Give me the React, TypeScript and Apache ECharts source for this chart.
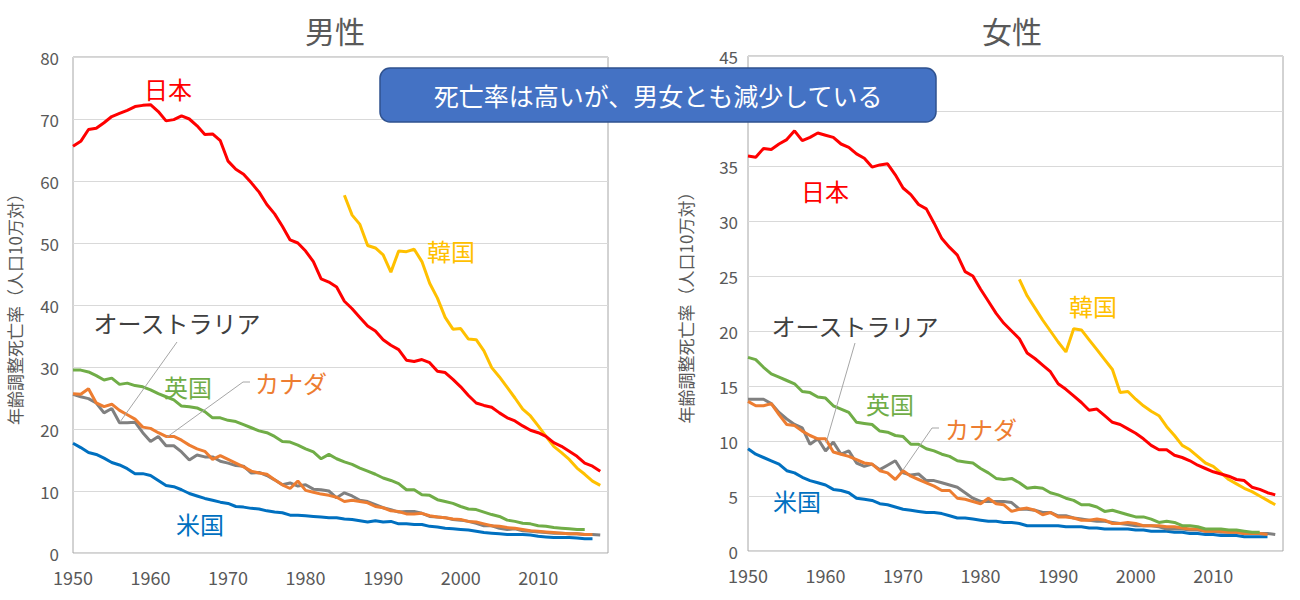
import React, { useEffect, useRef } from "react";
import * as echarts from "echarts";

const FONT = '"Noto Sans CJK JP", "Noto Sans", sans-serif';

// ---- Male (年齢調整死亡率, 人口10万対) ----
const JP_M_START = 1950;
const JP_M = [
  65.6, 66.4, 68.3, 68.5, 69.4, 70.4, 70.9, 71.4, 72.0, 72.2,
  72.3, 71.2, 69.7, 69.9, 70.5, 70.0, 68.9, 67.5, 67.6, 66.5,
  63.2, 61.9, 61.1, 59.7, 58.2, 56.2, 54.7, 52.7, 50.5, 50.0,
  48.7, 47.0, 44.2, 43.7, 42.9, 40.6, 39.4, 38.0, 36.6, 35.8,
  34.4, 33.5, 32.8, 31.1, 30.9, 31.2, 30.7, 29.3, 29.1, 28.0,
  26.8, 25.4, 24.2, 23.8, 23.5, 22.6, 21.8, 21.3, 20.5, 19.8,
  19.4, 18.8, 17.8, 17.2, 16.4, 15.6, 14.5, 14.0, 13.2,
];
const KR_M_START = 1985;
const KR_M = [
  57.7, 54.5, 53.0, 49.6, 49.2, 48.1, 45.3, 48.7, 48.6, 49.0,
  47.0, 43.5, 41.1, 38.0, 36.1, 36.2, 34.5, 34.4, 32.6, 29.9,
  28.4, 26.7, 25.0, 23.2, 22.1, 20.5, 18.8, 17.2, 16.2, 15.1,
  13.7, 12.7, 11.6, 10.9,
];
const UK_M_START = 1950;
const UK_M = [
  29.5, 29.5, 29.2, 28.6, 27.9, 28.2, 27.2, 27.4, 27.0, 26.8,
  26.3, 25.7, 25.2, 24.7, 23.7, 23.6, 23.4, 22.8, 21.8, 21.8,
  21.4, 21.2, 20.7, 20.2, 19.7, 19.4, 18.8, 18.0, 17.9, 17.4,
  16.8, 16.3, 15.2, 15.9, 15.2, 14.7, 14.3, 13.7, 13.2, 12.7,
  12.1, 11.7, 11.2, 10.2, 10.2, 9.4, 9.3, 8.6, 8.3, 8.0,
  7.5, 7.1, 7.0, 6.6, 6.2, 5.9, 5.3, 5.1, 4.8, 4.7,
  4.4, 4.3, 4.1, 4.0, 3.9, 3.8, 3.8,
];
const CA_M_START = 1950;
const CA_M = [
  25.7, 25.6, 26.5, 24.2, 23.6, 24.0, 23.0, 22.3, 21.6, 20.3,
  20.1, 19.4, 18.8, 18.8, 18.2, 17.4, 16.8, 16.4, 15.1, 15.7,
  15.1, 14.5, 13.9, 13.2, 12.9, 12.7, 11.8, 11.0, 10.4, 11.6,
  10.1, 9.8, 9.5, 9.3, 9.0, 8.3, 8.5, 8.3, 8.1, 7.5,
  7.3, 6.8, 6.7, 6.3, 6.3, 6.4, 6.0, 5.8, 5.7, 5.5,
  5.4, 5.1, 5.0, 4.7, 4.4, 4.3, 4.1, 4.0, 3.8, 3.6,
  3.5, 3.4, 3.3, 3.2, 3.1, 3.1, 3.0, 3.0,
];
const AU_M_START = 1950;
const AU_M = [
  25.6, 25.2, 24.9, 24.2, 22.6, 23.3, 21.0, 21.0, 21.1, 19.4,
  18.0, 18.8, 17.3, 17.3, 16.3, 15.0, 15.8, 15.5, 15.5, 14.8,
  14.5, 14.1, 14.0, 12.9, 13.0, 12.5, 11.8, 11.0, 11.3, 10.8,
  11.0, 10.3, 10.2, 10.0, 8.9, 9.7, 9.2, 8.5, 8.3, 7.8,
  7.3, 7.0, 6.6, 6.7, 6.7, 6.4, 5.9, 5.8, 5.7, 5.4,
  5.3, 5.1, 4.8, 4.4, 4.4, 4.0, 3.8, 3.9, 3.6, 3.5,
  3.4, 3.3, 3.2, 3.2, 3.1, 3.1, 3.0, 3.0, 2.9,
];
const US_M_START = 1950;
const US_M = [
  17.7, 17.0, 16.2, 15.9, 15.3, 14.6, 14.2, 13.6, 12.8, 12.8,
  12.5, 11.7, 10.9, 10.7, 10.2, 9.6, 9.2, 8.8, 8.5, 8.2,
  8.0, 7.5, 7.4, 7.2, 7.1, 6.8, 6.6, 6.5, 6.1, 6.1,
  6.0, 5.9, 5.8, 5.7, 5.7, 5.5, 5.4, 5.2, 5.0, 5.2,
  5.0, 5.1, 4.7, 4.7, 4.6, 4.6, 4.3, 4.2, 4.0, 3.9,
  3.8, 3.7, 3.5, 3.3, 3.2, 3.1, 3.0, 3.0, 3.0, 2.9,
  2.7, 2.6, 2.5, 2.5, 2.5, 2.4, 2.3, 2.3,
];

// ---- Female ----
const JP_F_START = 1950;
const JP_F = [
  35.9, 35.8, 36.6, 36.5, 37.0, 37.4, 38.2, 37.3, 37.6, 38.0,
  37.8, 37.6, 37.0, 36.7, 36.1, 35.7, 34.9, 35.1, 35.2, 34.2,
  33.0, 32.4, 31.5, 31.1, 29.8, 28.4, 27.6, 26.9, 25.4, 25.0,
  23.8, 22.7, 21.6, 20.7, 20.0, 19.3, 18.0, 17.5, 16.9, 16.3,
  15.2, 14.7, 14.1, 13.5, 12.8, 12.9, 12.3, 11.7, 11.5, 11.1,
  10.7, 10.2, 9.6, 9.2, 9.2, 8.7, 8.5, 8.2, 7.8, 7.5,
  7.2, 7.0, 6.8, 6.5, 6.4, 5.8, 5.6, 5.3, 5.1,
];
const KR_F_START = 1985;
const KR_F = [
  24.7, 23.2, 22.1, 21.0, 20.0, 19.0, 18.1, 20.2, 20.1, 19.2,
  18.3, 17.4, 16.5, 14.4, 14.5, 13.8, 13.2, 12.7, 12.3, 11.3,
  10.5, 9.6, 9.2, 8.6, 8.0, 7.7, 7.1, 6.5, 6.1, 5.7,
  5.4, 5.0, 4.6, 4.2,
];
const UK_F_START = 1950;
const UK_F = [
  17.6, 17.4, 16.7, 16.1, 15.8, 15.5, 15.2, 14.5, 14.4, 14.0,
  13.9, 13.2, 12.9, 12.6, 11.7, 11.6, 11.5, 10.9, 10.8, 10.5,
  10.4, 9.7, 9.7, 9.3, 9.1, 8.8, 8.6, 8.2, 8.1, 8.0,
  7.5, 7.1, 6.6, 6.5, 6.6, 6.2, 5.7, 5.8, 5.7, 5.3,
  5.1, 4.8, 4.6, 4.2, 4.2, 4.0, 3.6, 3.7, 3.5, 3.3,
  3.1, 3.1, 2.9, 2.6, 2.7, 2.6, 2.3, 2.3, 2.2, 2.0,
  2.0, 2.0, 1.9, 1.9, 1.8, 1.7, 1.7,
];
const CA_F_START = 1950;
const CA_F = [
  13.6, 13.2, 13.2, 13.4, 12.4, 11.5, 11.4, 10.9, 10.5, 10.2,
  10.2, 9.0, 8.8, 8.6, 8.3, 8.0, 7.9, 7.3, 7.1, 6.5,
  7.3, 6.8, 6.5, 6.2, 5.9, 5.5, 5.5, 4.8, 4.7, 4.5,
  4.3, 4.8, 4.3, 4.2, 3.6, 3.8, 3.9, 3.7, 3.3, 3.5,
  3.1, 3.1, 3.0, 2.8, 2.8, 2.9, 2.8, 2.5, 2.5, 2.6,
  2.5, 2.3, 2.3, 2.3, 2.2, 2.2, 2.1, 2.0, 2.0, 1.8,
  1.8, 1.8, 1.7, 1.7, 1.6, 1.6, 1.6, 1.5,
];
const AU_F_START = 1950;
const AU_F = [
  13.8, 13.8, 13.8, 13.4, 12.6, 12.0, 11.5, 11.2, 9.7, 10.2,
  9.1, 9.9, 8.8, 9.1, 8.0, 7.7, 7.9, 7.4, 7.8, 8.2,
  7.1, 6.9, 7.0, 6.4, 6.4, 6.2, 6.0, 5.8, 5.3, 4.8,
  4.5, 4.5, 4.5, 4.5, 4.4, 3.8, 3.8, 3.7, 3.5, 3.5,
  3.2, 3.2, 3.0, 2.9, 2.8, 2.7, 2.7, 2.6, 2.5, 2.4,
  2.3, 2.3, 2.3, 2.2, 2.0, 2.0, 2.0, 1.9, 1.9, 1.8,
  1.8, 1.7, 1.7, 1.7, 1.6, 1.6, 1.6, 1.6, 1.5,
];
const US_F_START = 1950;
const US_F = [
  9.3, 8.8, 8.5, 8.2, 7.9, 7.3, 7.1, 6.7, 6.4, 6.2,
  6.0, 5.6, 5.5, 5.3, 4.8, 4.7, 4.6, 4.3, 4.2, 4.0,
  3.8, 3.7, 3.6, 3.5, 3.5, 3.4, 3.2, 3.0, 3.0, 2.9,
  2.8, 2.7, 2.7, 2.6, 2.6, 2.5, 2.3, 2.3, 2.3, 2.3,
  2.3, 2.2, 2.2, 2.2, 2.1, 2.1, 2.0, 2.0, 2.0, 2.0,
  1.9, 1.9, 1.8, 1.8, 1.8, 1.7, 1.7, 1.6, 1.6, 1.5,
  1.5, 1.4, 1.4, 1.4, 1.3, 1.3, 1.3, 1.3,
];

const TITLES = ["男性", "女性"];
const Y_NAME = "年齢調整死亡率（人口10万対）";
const CALLOUT = "死亡率は高いが、男女とも減少している";
const HIDDEN_RIGHT_TICK = 40; // covered by the callout box in the reference
const COUNTRY = {
  jp: "日本",
  kr: "韓国",
  uk: "英国",
  ca: "カナダ",
  au: "オーストラリア",
  us: "米国",
};
const COLORS = {
  jp: "#FF0000",
  kr: "#FFC000",
  uk: "#70AD47",
  ca: "#ED7D31",
  au: "#808080",
  us: "#0070C0",
};

const pairs = (start: number, arr: number[]) => arr.map((v, i) => [start + i, v]);

function lineSeries(name: string, color: string, data: number[][], idx: number) {
  return {
    type: "line",
    name,
    xAxisIndex: idx,
    yAxisIndex: idx,
    data,
    showSymbol: false,
    symbol: "none",
    lineStyle: { color, width: 3 },
    itemStyle: { color },
  };
}

function labelText(text: string, x: number, y: number, fill: string) {
  return {
    type: "text",
    x,
    y,
    z: 100,
    style: {
      text,
      fill,
      fontSize: 24,
      fontFamily: FONT,
      align: "center",
      verticalAlign: "middle",
    },
  };
}

function leader(points: number[][]) {
  return {
    type: "polyline",
    z: 90,
    shape: { points },
    style: { stroke: "#A6A6A6", lineWidth: 1, fill: null },
  };
}

export default function App() {
  const ref = useRef<HTMLDivElement>(null);

  useEffect(() => {
    if (!ref.current) return;
    const chart = echarts.init(ref.current, undefined, { renderer: "svg" });

    const axisLabel = { color: "#595959", fontSize: 17, fontFamily: FONT };
    const xAxisBase = {
      type: "value",
      min: 1950,
      max: 2019,
      interval: 10,
      axisLine: { show: false },
      axisTick: { show: false },
      splitLine: { show: false },
      axisLabel: {
        ...axisLabel,
        fontSize: 18,
        margin: 15,
        showMaxLabel: false,
        formatter: (v: number) => String(v),
      },
    };
    const yAxisBase = {
      type: "value",
      min: 0,
      name: Y_NAME,
      nameLocation: "middle",
      nameRotate: 90,
      nameTextStyle: { color: "#595959", fontSize: 17, fontFamily: FONT },
      axisLine: { show: false },
      axisTick: { show: false },
      splitLine: { show: true, lineStyle: { color: "#D9D9D9", width: 1 } },
    };

    const option = {
      animation: false,
      backgroundColor: "#FFFFFF",
      textStyle: { fontFamily: FONT },
      grid: [
        { left: 73, top: 57, width: 535, height: 496, show: true, borderColor: "#A6A6A6", borderWidth: 1, backgroundColor: "transparent" },
        { left: 748, top: 56, width: 535, height: 495, show: true, borderColor: "#A6A6A6", borderWidth: 1, backgroundColor: "transparent" },
      ],
      xAxis: [
        { ...xAxisBase, gridIndex: 0 },
        { ...xAxisBase, gridIndex: 1 },
      ],
      yAxis: [
        { ...yAxisBase, gridIndex: 0, max: 80, interval: 10, nameGap: 50, axisLabel: { ...axisLabel, margin: 14 } },
        {
          ...yAxisBase,
          gridIndex: 1,
          max: 45,
          interval: 5,
          nameGap: 54,
          axisLabel: {
            ...axisLabel,
            margin: 10,
            formatter: (v: number) => (v === HIDDEN_RIGHT_TICK ? "" : String(v)),
          },
        },
      ],
      series: [
        lineSeries(COUNTRY.us, COLORS.us, pairs(US_M_START, US_M), 0),
        lineSeries(COUNTRY.au, COLORS.au, pairs(AU_M_START, AU_M), 0),
        lineSeries(COUNTRY.ca, COLORS.ca, pairs(CA_M_START, CA_M), 0),
        lineSeries(COUNTRY.uk, COLORS.uk, pairs(UK_M_START, UK_M), 0),
        lineSeries(COUNTRY.kr, COLORS.kr, pairs(KR_M_START, KR_M), 0),
        lineSeries(COUNTRY.jp, COLORS.jp, pairs(JP_M_START, JP_M), 0),
        lineSeries(COUNTRY.us, COLORS.us, pairs(US_F_START, US_F), 1),
        lineSeries(COUNTRY.au, COLORS.au, pairs(AU_F_START, AU_F), 1),
        lineSeries(COUNTRY.ca, COLORS.ca, pairs(CA_F_START, CA_F), 1),
        lineSeries(COUNTRY.uk, COLORS.uk, pairs(UK_F_START, UK_F), 1),
        lineSeries(COUNTRY.kr, COLORS.kr, pairs(KR_F_START, KR_F), 1),
        lineSeries(COUNTRY.jp, COLORS.jp, pairs(JP_F_START, JP_F), 1),
      ],
      graphic: [
        {
          type: "text",
          x: 335,
          y: 30,
          style: { text: TITLES[0], fill: "#595959", fontSize: 30, fontFamily: FONT, align: "center", verticalAlign: "middle" },
        },
        {
          type: "text",
          x: 1012,
          y: 30,
          style: { text: TITLES[1], fill: "#595959", fontSize: 30, fontFamily: FONT, align: "center", verticalAlign: "middle" },
        },
        // left chart labels
        labelText(COUNTRY.jp, 168, 88, COLORS.jp),
        labelText(COUNTRY.kr, 451, 250, COLORS.kr),
        labelText(COUNTRY.au, 177, 322, "#404040"),
        labelText(COUNTRY.uk, 188, 386, COLORS.uk),
        labelText(COUNTRY.ca, 291, 382, COLORS.ca),
        labelText(COUNTRY.us, 200, 523, COLORS.us),
        leader([[177, 342], [120, 422]]),
        leader([[250, 382], [243, 382], [167, 437]]),
        // right chart labels
        labelText(COUNTRY.jp, 825, 190, COLORS.jp),
        labelText(COUNTRY.kr, 1093, 305, COLORS.kr),
        labelText(COUNTRY.au, 855, 325, "#404040"),
        labelText(COUNTRY.uk, 890, 403, COLORS.uk),
        labelText(COUNTRY.ca, 981, 428, COLORS.ca),
        labelText(COUNTRY.us, 797, 500, COLORS.us),
        leader([[855, 343], [826, 443]]),
        leader([[939, 428], [932, 428], [903, 470]]),
        // callout
        {
          type: "rect",
          z: 200,
          shape: { x: 380, y: 68, width: 556, height: 54, r: 10 },
          style: { fill: "#4472C4", stroke: "#2F528F", lineWidth: 1.5 },
        },
        {
          type: "text",
          z: 201,
          x: 658,
          y: 95,
          style: { text: CALLOUT, fill: "#FFFFFF", fontSize: 25, fontFamily: FONT, align: "center", verticalAlign: "middle" },
        },
      ],
    };

    chart.setOption(option as any);
    return () => chart.dispose();
  }, []);

  return (
    <div
      ref={ref}
      style={{ position: "absolute", left: 0, top: 0, width: 1300, height: 600, background: "#fff" }}
    />
  );
}
